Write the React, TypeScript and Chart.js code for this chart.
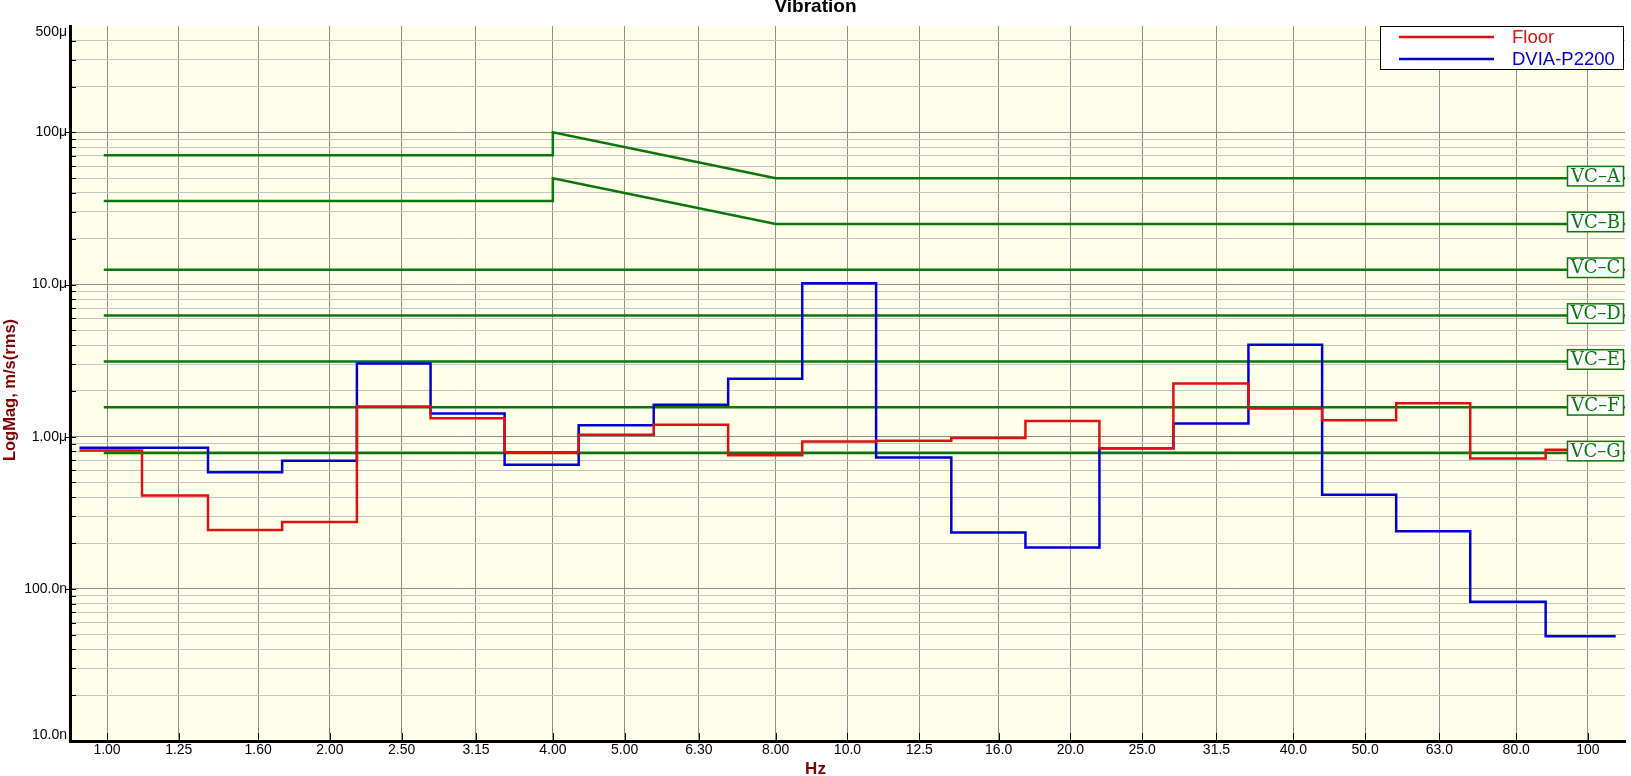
import React, { useEffect, useRef } from 'react';
import { Chart, registerables } from 'chart.js';

Chart.register(...registerables);

// ---------- data ----------
const xTickValues = [1, 1.25, 1.6, 2, 2.5, 3.15, 4, 5, 6.3, 8, 10, 12.5, 16, 20, 25, 31.5, 40, 50, 63, 80, 100];
const xTickLabels = ['1.00', '1.25', '1.60', '2.00', '2.50', '3.15', '4.00', '5.00', '6.30', '8.00', '10.0', '12.5', '16.0', '20.0', '25.0', '31.5', '40.0', '50.0', '63.0', '80.0', '100'];

// step edges (Hz) of the 1/3-octave bands as drawn
const bandEdgesHz = [0.918, 1.115, 1.369, 1.724, 2.175, 2.735, 3.443, 4.335, 5.474, 6.9, 8.687, 10.93, 13.81, 17.39, 21.89, 27.55, 34.79, 43.75, 55.08, 69.34, 87.67, 109.0];

// band values in µm/s (rms)
const floorUm = [0.81, 0.41, 0.244, 0.275, 1.58, 1.32, 0.789, 1.03, 1.2, 0.754, 0.93, 0.94, 0.98, 1.27, 0.838, 2.24, 1.53, 1.28, 1.66, 0.72, 0.82];
const dviaUm = [0.847, 0.847, 0.583, 0.696, 3.03, 1.42, 0.655, 1.19, 1.62, 2.4, 10.2, 0.731, 0.235, 0.187, 0.838, 1.22, 4.02, 0.416, 0.239, 0.0824, 0.0488];

// vibration criteria
const vcNames = ['VC\u2013A', 'VC\u2013B', 'VC\u2013C', 'VC\u2013D', 'VC\u2013E', 'VC\u2013F', 'VC\u2013G'];
const vcLevelsUm = [50, 25, 12.5, 6.25, 3.12, 1.56, 0.78];
const vcAFreqs = [0.99, 4.0, 4.0, 8.0, 112.2];
const vcAUm = [70.7, 70.7, 100, 50, 50];
const vcBFreqs = [0.99, 4.0, 4.0, 8.0, 112.2];
const vcBUm = [35.4, 35.4, 50, 25, 25];
const vcFlatFreqs = [0.99, 112.2];

// y-axis labels
const yLabelValues = [1e-8, 1e-7, 1e-6, 1e-5, 1e-4, 5e-4];
const yLabelTexts = ['10.0n', '100.0n', '1.00\u03bc', '10.0\u03bc', '100\u03bc', '500\u03bc'];

const seriesNames = ['Floor', 'DVIA-P2200'];
const RED = '#E01010';
const BLUE = '#0000D0';
const GREEN = '#0B760B';
const DARKRED = '#800000';
const SANS = '"Liberation Sans", Arial, sans-serif';

function stepPoints(values: number[]) {
  return bandEdgesHz.map((x, i) => ({ x, y: values[Math.min(i, values.length - 1)] * 1e-6 }));
}
function linePoints(freqs: number[], um: number[]) {
  return freqs.map((x, i) => ({ x, y: um[i] * 1e-6 }));
}

const decor = {
  id: 'decor',
  beforeDraw(chart: any) {
    const { ctx, chartArea: a } = chart;
    ctx.save();
    ctx.fillStyle = '#FFFFE9';
    ctx.fillRect(a.left, a.top, a.right - a.left, a.bottom - a.top);
    ctx.restore();
  },
  afterDraw(chart: any) {
    const { ctx, chartArea: a } = chart;
    const xs = chart.scales.x;
    const ys = chart.scales.y;
    ctx.save();
    // inward ticks
    ctx.strokeStyle = '#000';
    ctx.lineWidth = 1;
    ys.ticks.forEach((t: any) => {
      const y = Math.round(ys.getPixelForValue(t.value)) + 0.5;
      if (y < a.top + 1 || y > a.bottom - 1) return;
      const lg = Math.log10(t.value);
      const major = Math.abs(lg - Math.round(lg)) < 1e-6;
      ctx.beginPath();
      ctx.moveTo(major ? a.left - 4 : a.left, y);
      ctx.lineTo(a.left + 6, y);
      ctx.stroke();
    });
    xs.ticks.forEach((t: any) => {
      const x = Math.round(xs.getPixelForValue(t.value)) + 0.5;
      ctx.beginPath();
      ctx.moveTo(x, a.bottom);
      ctx.lineTo(x, a.bottom - 8);
      ctx.stroke();
    });
    // y labels
    ctx.fillStyle = '#000';
    ctx.font = `14px ${SANS}`;
    ctx.textAlign = 'right';
    ctx.textBaseline = 'middle';
    yLabelValues.forEach((v, i) => {
      let y = ys.getPixelForValue(v);
      if (y < a.top + 6) y = a.top + 6.5;
      if (y > a.bottom - 6) y = a.bottom - 6;
      ctx.fillText(yLabelTexts[i], 67, y);
    });
    // title
    ctx.textAlign = 'center';
    ctx.font = `bold 19px ${SANS}`;
    ctx.fillText('Vibration', chart.width / 2, 7);
    // axis titles
    ctx.fillStyle = DARKRED;
    ctx.font = `bold 17px ${SANS}`;
    ctx.fillText('Hz', chart.width / 2, 769);
    ctx.save();
    ctx.translate(10, 390);
    ctx.rotate(-Math.PI / 2);
    ctx.font = `bold 16.5px ${SANS}`;
    ctx.fillText('LogMag, m/s(rms)', 0, 0);
    ctx.restore();
    // VC labels
    ctx.font = `18px "DejaVu Serif", serif`;
    vcLevelsUm.forEach((v, i) => {
      const y = ys.getPixelForValue(v * 1e-6);
      const bx = a.right - 57.5;
      const bw = 56;
      const bh = 19.5;
      const by = y - 2 - bh / 2;
      ctx.fillStyle = '#FFFFFF';
      ctx.fillRect(bx, by, bw, bh);
      ctx.strokeStyle = GREEN;
      ctx.lineWidth = 1.5;
      ctx.strokeRect(bx, by, bw, bh);
      ctx.fillStyle = GREEN;
      ctx.textAlign = 'center';
      ctx.textBaseline = 'middle';
      ctx.fillText(vcNames[i], bx + bw / 2, y - 1);
    });
    // legend
    const lx = 1380.5, ly = 26.5, lw = 243, lh = 43;
    ctx.fillStyle = '#FFFFFF';
    ctx.fillRect(lx, ly, lw, lh);
    ctx.strokeStyle = '#000';
    ctx.lineWidth = 1;
    ctx.strokeRect(lx, ly, lw, lh);
    const cols = [RED, BLUE];
    const rows = [37, 59];
    ctx.font = `18.5px ${SANS}`;
    ctx.textAlign = 'left';
    seriesNames.forEach((n, i) => {
      ctx.strokeStyle = cols[i];
      ctx.lineWidth = 2.5;
      ctx.beginPath();
      ctx.moveTo(1399, rows[i]);
      ctx.lineTo(1494, rows[i]);
      ctx.stroke();
      ctx.fillStyle = cols[i];
      ctx.fillText(n, 1512, rows[i] + 0.5);
    });
    ctx.restore();
  },
};

export default function App() {
  const ref = useRef<HTMLCanvasElement | null>(null);
  useEffect(() => {
    if (!ref.current) return;
    const yTicks: number[] = [];
    for (let d = -8; d <= -4; d++) {
      for (let m = 1; m <= 9; m++) {
        const v = m * Math.pow(10, d);
        if (v <= 5e-4 * 1.0001) yTicks.push(v);
      }
    }
    const vcDatasets = vcLevelsUm.map((lvl, i) => {
      let data;
      if (i === 0) data = linePoints(vcAFreqs, vcAUm);
      else if (i === 1) data = linePoints(vcBFreqs, vcBUm);
      else data = linePoints(vcFlatFreqs, [lvl, lvl]);
      return {
        label: vcNames[i],
        data,
        borderColor: GREEN,
        borderWidth: 2.5,
        pointRadius: 0,
        fill: false,
        tension: 0,
      };
    });
    const chart = new Chart(ref.current, {
      type: 'line',
      data: {
        datasets: [
          { label: seriesNames[0], data: stepPoints(floorUm), borderColor: RED, borderWidth: 2.5, pointRadius: 0, stepped: true, fill: false },
          { label: seriesNames[1], data: stepPoints(dviaUm), borderColor: BLUE, borderWidth: 2.5, pointRadius: 0, stepped: true, fill: false },
          ...vcDatasets,
        ] as any,
      },
      options: {
        animation: false,
        responsive: false,
        maintainAspectRatio: false,
        parsing: false as any,
        layout: { padding: { left: 0, right: 6, top: 26, bottom: 0 } },
        plugins: {
          legend: { display: false },
          title: { display: false },
          tooltip: { enabled: false },
        },
        scales: {
          x: {
            type: 'logarithmic',
            min: 0.8913,
            max: 112.2,
            afterBuildTicks: (s: any) => {
              s.ticks = xTickValues.map((v) => ({ value: v }));
            },
            afterFit: (s: any) => {
              s.height = 35;
            },
            grid: { color: '#8C8C8C', lineWidth: 1, drawTicks: false },
            border: { display: true, color: '#000', width: 3 },
            ticks: {
              autoSkip: false,
              maxRotation: 0,
              minRotation: 0,
              padding: 1,
              color: '#000',
              font: { family: SANS, size: 14 },
              callback: (_v: any, i: number) => xTickLabels[i],
            },
          } as any,
          y: {
            type: 'logarithmic',
            min: 1e-8,
            max: 5e-4,
            afterBuildTicks: (s: any) => {
              s.ticks = yTicks.map((v) => ({ value: v }));
            },
            afterFit: (s: any) => {
              s.width = 70;
            },
            grid: {
              drawTicks: false,
              lineWidth: 1,
              color: (c: any) => {
                const v = c.tick ? c.tick.value : 1;
                if (v >= 5e-4 * 0.999) return 'rgba(0,0,0,0)';
                const lg = Math.log10(v);
                return Math.abs(lg - Math.round(lg)) < 1e-6 ? '#8C8C8C' : '#C4C4C4';
              },
            },
            border: { display: true, color: '#000', width: 3 },
            ticks: { display: false },
          } as any,
        },
      },
      plugins: [decor],
    });
    return () => chart.destroy();
  }, []);
  return (
    <div style={{ position: 'fixed', left: 0, top: 0, width: 1631, height: 776, background: '#fff' }}>
      <canvas ref={ref} width={1631} height={776} style={{ display: 'block' }} />
    </div>
  );
}
